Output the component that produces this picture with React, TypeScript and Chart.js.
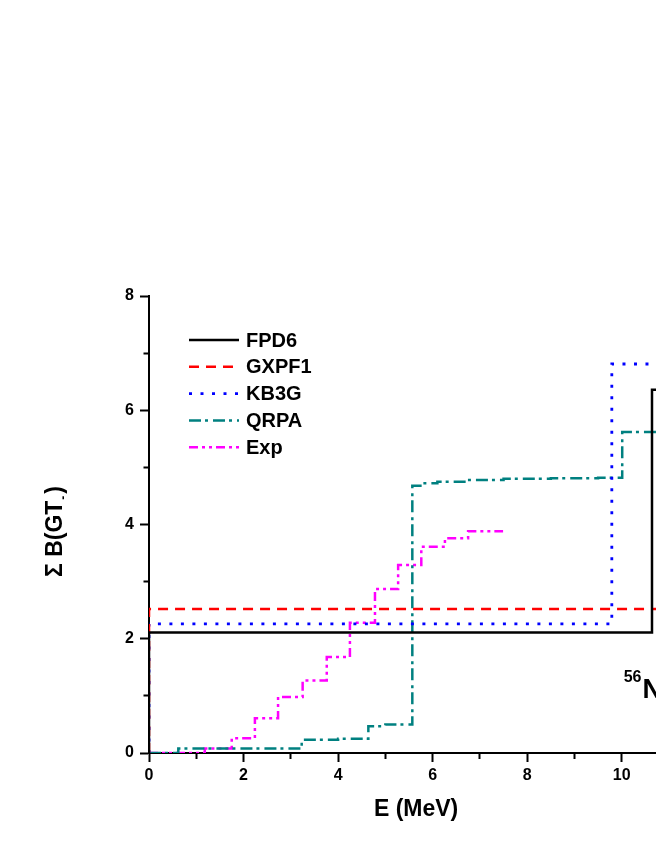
import React, { useEffect, useRef } from 'react';
import { Chart, registerables } from 'chart.js';

Chart.register(...registerables);

// ---- data (E in MeV, cumulative sum B(GT)) ----
const fpd6E = [0, 0, 10.64, 12];
const fpd6B = [0, 2.11, 6.36, 6.36];

const gxpf1E = [0, 0, 12];
const gxpf1B = [0, 2.52, 2.52];

const kb3gE = [0, 0, 9.79, 12];
const kb3gB = [0, 2.26, 6.81, 6.81];

const qrpaE = [0, 0.62, 3.23, 4.0, 4.64, 5.0, 5.57, 5.8, 6.1, 6.7, 7.5, 8.5, 9.5, 10.01, 12];
const qrpaB = [0, 0.08, 0.23, 0.25, 0.47, 0.5, 4.68, 4.72, 4.75, 4.78, 4.8, 4.81, 4.82, 5.62, 5.63];

const expE = [0, 1.18, 1.75, 2.24, 2.73, 3.25, 3.76, 4.25, 4.78, 5.27, 5.76, 6.26, 6.75, 7.49];
const expB = [0, 0.08, 0.26, 0.61, 0.98, 1.27, 1.68, 2.28, 2.87, 3.29, 3.61, 3.76, 3.88, 3.88];

const seriesLabels = ['FPD6', 'GXPF1', 'KB3G', 'QRPA', 'Exp'];
const xTickLabels = ['0', '2', '4', '6', '8', '10'];
const yTickLabels = ['0', '2', '4', '6', '8'];

const FONT = "'Liberation Sans', Arial, Helvetica, sans-serif";

const toPoints = (xs: number[], ys: number[]) => xs.map((x, i) => ({ x, y: ys[i] }));

const legendPlugin = {
  id: 'customLegend',
  afterDraw(chart: any) {
    const { ctx, chartArea } = chart;
    const x0 = chartArea.left + 40;
    const x1 = chartArea.left + 90;
    const xt = chartArea.left + 97;
    chart.data.datasets.forEach((ds: any, i: number) => {
      const y = chartArea.top + 44 + i * 26.8;
      ctx.save();
      ctx.strokeStyle = ds.borderColor;
      ctx.lineWidth = ds.borderWidth;
      ctx.setLineDash(ds.borderDash || []);
      ctx.beginPath();
      ctx.moveTo(x0, y);
      ctx.lineTo(x1, y);
      ctx.stroke();
      ctx.setLineDash([]);
      ctx.fillStyle = '#000';
      ctx.font = `bold 20px ${FONT}`;
      ctx.textBaseline = 'middle';
      ctx.textAlign = 'left';
      ctx.fillText(ds.label, xt, y + 1);
      ctx.restore();
    });
  },
};

const annotPlugin = {
  id: 'annot',
  afterDraw(chart: any) {
    const { ctx, scales, chartArea } = chart;
    // nucleus label
    const px = scales.x.getPixelForValue(10.04);
    const py = scales.y.getPixelForValue(0.96);
    ctx.save();
    ctx.fillStyle = '#000';
    ctx.textBaseline = 'alphabetic';
    ctx.textAlign = 'left';
    ctx.font = `bold 16px ${FONT}`;
    ctx.fillText('56', px, py - 16);
    const w = ctx.measureText('56').width;
    ctx.font = `bold 27px ${FONT}`;
    ctx.fillText('Ni', px + w + 1, py);
    ctx.restore();

    // y-axis title with subscript
    ctx.save();
    const cx = 56;
    const cy = (chartArea.top + chartArea.bottom) / 2 + 7;
    ctx.translate(cx, cy);
    ctx.rotate(-Math.PI / 2);
    ctx.fillStyle = '#000';
    ctx.textBaseline = 'middle';
    ctx.textAlign = 'left';
    const big = `bold 23px ${FONT}`;
    const small = `bold 12px ${FONT}`;
    ctx.font = big;
    const p1 = '\u03A3 B(GT';
    const p3 = ')';
    const w1 = ctx.measureText(p1).width;
    const w3 = ctx.measureText(p3).width;
    ctx.font = small;
    const p2 = '-';
    const w2 = ctx.measureText(p2).width + 3;
    const total = w1 + w2 + w3;
    let sx = -total / 2;
    ctx.font = big;
    ctx.fillText(p1, sx, 0);
    sx += w1;
    ctx.font = small;
    ctx.fillText(p2, sx + 1, 8);
    sx += w2;
    ctx.font = big;
    ctx.fillText(p3, sx, 0);
    ctx.restore();
  },
};

export default function App() {
  const ref = useRef<HTMLCanvasElement | null>(null);

  useEffect(() => {
    if (!ref.current) return;
    const common = { pointRadius: 0, borderWidth: 2.5, fill: false, stepped: 'before' as const, tension: 0 };
    const chart = new Chart(ref.current, {
      type: 'line',
      data: {
        datasets: [
          { ...common, label: seriesLabels[0], data: toPoints(fpd6E, fpd6B), borderColor: '#000000', borderDash: [] },
          { ...common, label: seriesLabels[1], data: toPoints(gxpf1E, gxpf1B), borderColor: '#FF0000', borderDash: [10, 7] },
          { ...common, label: seriesLabels[2], data: toPoints(kb3gE, kb3gB), borderColor: '#0000FF', borderDash: [3, 8.5], borderWidth: 2.8 },
          { ...common, label: seriesLabels[3], data: toPoints(qrpaE, qrpaB), borderColor: '#008080', borderDash: [12, 4, 3, 5] },
          { ...common, label: seriesLabels[4], data: toPoints(expE, expB), borderColor: '#FF00FF', borderDash: [9, 4, 3, 4, 3, 4] },
        ],
      },
      options: {
        responsive: false,
        animation: false,
        devicePixelRatio: 1,
        layout: { padding: { left: 0, top: 296, right: 76.8, bottom: 0 } },
        plugins: { legend: { display: false }, tooltip: { enabled: false } },
        scales: {
          x: {
            type: 'linear',
            min: 0,
            max: 11.3,
            afterFit: (s: any) => { s.height = 87; },
            border: { display: true, color: '#000', width: 2 },
            grid: {
              drawOnChartArea: false,
              drawTicks: true,
              tickLength: 9,
              tickWidth: 2,
              tickColor: (c: any) => (c.tick && Number.isInteger(c.tick.value) ? '#000' : 'rgba(0,0,0,0)'),
              tickBorderDash: (c: any) => (c.tick && Math.round(c.tick.value) % 2 === 1 ? [5, 100] : []),
            },
            ticks: {
              stepSize: 1,
              autoSkip: false,
              maxRotation: 0,
              padding: 4,
              color: '#000',
              font: { family: FONT, size: 16, weight: 'bold' },
              callback: (v: any) => {
                const n = Number(v);
                const idx = Number.isInteger(n) && n % 2 === 0 ? n / 2 : -1;
                return idx >= 0 && idx < xTickLabels.length ? xTickLabels[idx] : '';
              },
            },
            title: {
              display: true,
              text: 'E (MeV)',
              color: '#000',
              font: { family: FONT, size: 23, weight: 'bold' },
              padding: { top: 0, bottom: 17 },
            },
          },
          y: {
            type: 'linear',
            min: 0,
            max: 8,
            afterFit: (s: any) => { s.width = 149; },
            border: { display: true, color: '#000', width: 2 },
            grid: {
              drawOnChartArea: false,
              drawTicks: true,
              tickLength: 9,
              tickWidth: 2,
              tickColor: '#000',
              tickBorderDash: (c: any) => (c.tick && Math.round(c.tick.value) % 2 === 1 ? [0, 3.5, 20] : []),
            },
            ticks: {
              stepSize: 1,
              autoSkip: false,
              padding: 6,
              color: '#000',
              font: { family: FONT, size: 16, weight: 'bold' },
              callback: (v: any) => {
                const n = Number(v);
                const idx = Number.isInteger(n) && n % 2 === 0 ? n / 2 : -1;
                return idx >= 0 && idx < yTickLabels.length ? yTickLabels[idx] : '';
              },
            },
            title: { display: false },
          },
        },
      },
      plugins: [legendPlugin, annotPlugin],
    } as any);
    return () => chart.destroy();
  }, []);

  return (
    <div style={{ margin: '-8px -8px 0 -8px', width: 664, height: 840, overflow: 'hidden', background: '#fff' }}>
      <canvas ref={ref} width={760} height={840} style={{ display: 'block' }} />
    </div>
  );
}
